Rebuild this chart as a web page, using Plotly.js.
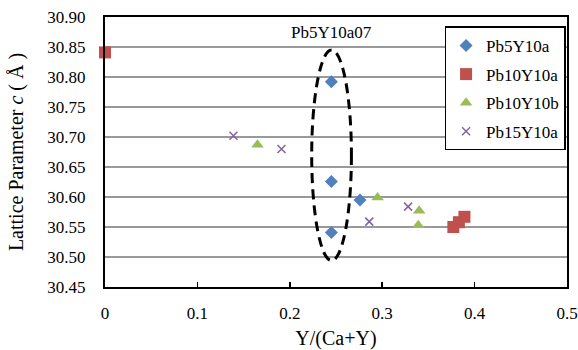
<!DOCTYPE html>
<html>
<head>
<meta charset="utf-8">
<script src="https://cdn.plot.ly/plotly-3.0.1.min.js"></script>
<style>html,body{margin:0;padding:0;background:#fff;}#chart{width:578px;height:350px;}</style>
</head>
<body>
<div id="chart"></div>
<script>
// Series data
const seriesNames = ["Pb5Y10a", "Pb10Y10a", "Pb10Y10b", "Pb15Y10a"];
const pb5y10aX = [0.245, 0.245, 0.245, 0.276];
const pb5y10aY = [30.792, 30.626, 30.541, 30.595];
const pb10y10aX = [0.0, 0.377, 0.383, 0.389];
const pb10y10aY = [30.841, 30.550, 30.558, 30.567];
const pb10y10bX = [0.165, 0.295, 0.340, 0.339];
const pb10y10bY = [30.687, 30.599, 30.577, 30.553];
const pb15y10aX = [0.139, 0.191, 0.286, 0.328];
const pb15y10aY = [30.702, 30.680, 30.559, 30.584];
// Highlight ellipse and its label
const ellipseLabel = "Pb5Y10a07";
const ellipseX = [0.2237, 0.2667];
const ellipseY = [30.494, 30.845];
const labelPos = [0.245, 30.874];
const xTicks = [0, 0.1, 0.2, 0.3, 0.4, 0.5];
const yTicks = [30.45, 30.50, 30.55, 30.60, 30.65, 30.70, 30.75, 30.80, 30.85, 30.90];

const FONT = "Liberation Serif, Times New Roman, serif";

const traces = [
  {x: pb5y10aX, y: pb5y10aY, name: seriesNames[0], legendgroup: "a",
   mode: "markers", type: "scatter", cliponaxis: false,
   marker: {symbol: "diamond", size: 10, color: "#4F81BD"}},
  {x: pb10y10aX, y: pb10y10aY, name: seriesNames[1], legendgroup: "b",
   mode: "markers", type: "scatter", cliponaxis: false,
   marker: {symbol: "square", size: 12, color: "#C0504D"}},
  {x: pb10y10bX, y: pb10y10bY, name: seriesNames[2], legendgroup: "c",
   mode: "markers", type: "scatter", cliponaxis: false,
   marker: {symbol: "triangle-up", size: 11, color: "#9BBB59"}},
  {x: pb15y10aX, y: pb15y10aY, name: seriesNames[3], legendgroup: "d",
   mode: "markers", type: "scatter", cliponaxis: false,
   marker: {symbol: "x-thin", size: 8, color: "#8064A2", line: {color: "#8064A2", width: 1.5}}}
];

const layout = {
  width: 578, height: 350,
  margin: {l: 105, r: 11, t: 17, b: 63},
  paper_bgcolor: "#fff", plot_bgcolor: "#fff",
  font: {family: FONT, size: 17, color: "#000"},
  showlegend: true,
  legend: {
    x: 0.735, y: 0.965, xanchor: "left", yanchor: "top",
    bgcolor: "#fff", bordercolor: "#000", borderwidth: 1.5,
    font: {family: FONT, size: 17, color: "#000"},
    tracegroupgap: 3.5
  },
  xaxis: {
    range: [0, 0.5], tickvals: xTicks, ticktext: xTicks.map(v => String(v)),
    showgrid: false, zeroline: false,
    showline: true, linecolor: "#000", linewidth: 2, mirror: true,
    ticks: "inside", ticklen: 5, tickwidth: 1.5, tickcolor: "#000",
    ticklabelstandoff: 10, ticklabeloverflow: "allow",
    tickfont: {family: FONT, size: 17, color: "#000"},
    title: {text: "Y/(Ca+Y)", font: {family: FONT, size: 20, color: "#000"}, standoff: 14}
  },
  yaxis: {
    range: [30.45, 30.90], tickvals: yTicks, tickformat: ".2f",
    showgrid: true, gridcolor: "#999999", gridwidth: 1.5, zeroline: false,
    showline: true, linecolor: "#000", linewidth: 2, mirror: true,
    ticks: "", ticklabelstandoff: 14,
    tickfont: {family: FONT, size: 17, color: "#000"},
    title: {text: "Lattice Parameter <i>c</i> ( Å )", font: {family: FONT, size: 20, color: "#000"}, standoff: 18}
  },
  shapes: [{
    type: "circle", xref: "x", yref: "y",
    x0: ellipseX[0], x1: ellipseX[1], y0: ellipseY[0], y1: ellipseY[1],
    line: {color: "#000", width: 3, dash: "10px,6px"}
  }],
  annotations: [{
    x: labelPos[0], y: labelPos[1], xref: "x", yref: "y",
    text: ellipseLabel, showarrow: false,
    font: {family: FONT, size: 17, color: "#000"}
  }]
};

Plotly.newPlot("chart", traces, layout, {displayModeBar: false, staticPlot: true});
</script>
</body>
</html>
